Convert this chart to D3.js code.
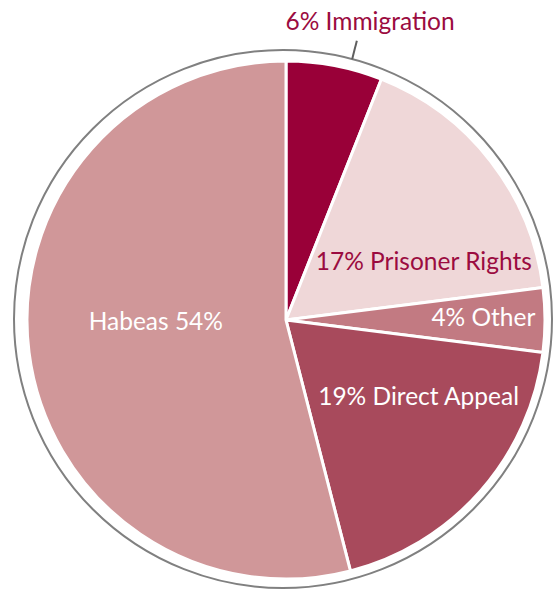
<!DOCTYPE html>
<html>
<head>
<meta charset="utf-8">
<script src="https://cdn.jsdelivr.net/npm/d3@7"></script>
<style>
  body { margin: 0; background: #fff; }
  svg text { font-family: "Lato", "Open Sans", sans-serif; }
</style>
</head>
<body>
<div id="chart"></div>
<script>
const categories = ['Immigration', 'Prisoner Rights', 'Other', 'Direct Appeal', 'Habeas'];
const shares = [6, 17, 4, 19, 54];
const labels = ['6% Immigration', '17% Prisoner Rights', '4% Other', '19% Direct Appeal', 'Habeas 54%'];
const colors = ['#990038', '#efd7d8', '#c27a82', '#a84a5c', '#d09799'];
const textColors = ['#9b0b40', '#9b0b40', '#ffffff', '#ffffff', '#ffffff'];

const width = 557, height = 592;
const cx = 286, cy = 320, R = 259;

// label nudges from the slice centroid (px)
const nudge = {
  'Prisoner Rights': [15, 37],
  'Other': [42, -3],
  'Direct Appeal': [16, -26],
  'Habeas': [24, -18]
};

const data = categories.map((c, i) => ({ name: c, value: shares[i], label: labels[i], color: colors[i], tc: textColors[i] }));

const svg = d3.select('#chart').append('svg')
  .attr('width', width)
  .attr('height', height);

const g = svg.append('g').attr('transform', `translate(${cx},${cy})`);

// outer grey ring, slightly off-centre like the original
g.append('circle')
  .attr('cx', -3).attr('cy', -1)
  .attr('r', 269)
  .attr('fill', 'none')
  .attr('stroke', '#808080')
  .attr('stroke-width', 2);

const pie = d3.pie().value(d => d.value).sort(null);
const arc = d3.arc().innerRadius(0).outerRadius(R);
const labelArc = d3.arc().innerRadius(R * 0.6).outerRadius(R * 0.6);
const arcs = pie(data);

g.selectAll('path')
  .data(arcs)
  .join('path')
    .attr('d', arc)
    .attr('fill', d => d.data.color)
    .attr('stroke', '#fff')
    .attr('stroke-width', 3)
    .attr('stroke-linejoin', 'round');

// inside labels
g.selectAll('text.in')
  .data(arcs.filter(d => d.data.name !== 'Immigration'))
  .join('text')
    .attr('class', 'in')
    .attr('transform', d => {
      const [x, y] = labelArc.centroid(d);
      const n = nudge[d.data.name];
      return `translate(${x + n[0]},${y + n[1]})`;
    })
    .attr('text-anchor', 'middle')
    .attr('dy', '0.35em')
    .attr('fill', d => d.data.tc)
    .attr('font-size', 24.5)
    .text(d => d.data.label);

// immigration label outside with leader line
const imm = arcs[0];
const ang = (imm.startAngle + imm.endAngle) / 2 + 0.06;
const p = r => [Math.sin(ang) * r, -Math.cos(ang) * r];
const a = p(R + 10), b = p(R + 29);
g.append('line')
  .attr('x1', a[0]).attr('y1', a[1])
  .attr('x2', b[0]).attr('y2', b[1])
  .attr('stroke', '#5f5f5f')
  .attr('stroke-width', 2);

g.append('text')
  .attr('x', 84)
  .attr('y', -290)
  .attr('text-anchor', 'middle')
  .attr('fill', imm.data.tc)
  .attr('font-size', 24.5)
  .text(imm.data.label);
</script>
</body>
</html>
